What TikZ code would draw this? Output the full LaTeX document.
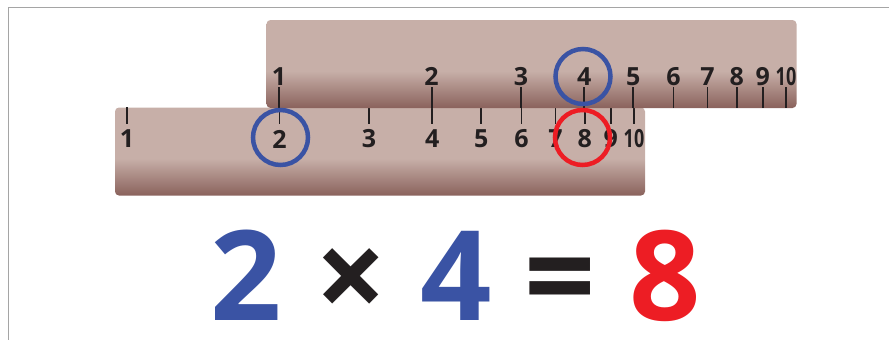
\documentclass[tikz,border=0pt]{standalone}
\usepackage{fontspec}
\setmainfont{Open Sans}
\definecolor{rlight}{RGB}{199,175,168}
\definecolor{rdark}{RGB}{138,98,92}
\definecolor{eqblue}{RGB}{58,83,164}
\definecolor{eqred}{RGB}{237,29,36}
\definecolor{ink}{RGB}{35,31,32}
\definecolor{framegray}{RGB}{165,165,165}
\pgfdeclareverticalshading{rulershade}{100bp}{color(0bp)=(rdark); color(25bp)=(rdark); color(46bp)=(rlight); color(100bp)=(rlight)}
\begin{document}
\begin{tikzpicture}[x=1pt,y=-1pt,
  ruler/.style={shading=rulershade, rounded corners=4pt, minimum width=530pt, minimum height=88pt, inner sep=0pt},
  lab/.style={text=ink, font=\bfseries\fontsize{25}{25}\selectfont, inner sep=1.5pt},
  tick/.style={draw=ink, line width=1.8pt},
  ring/.style={circle, line width=4.5pt, minimum size=55pt, inner sep=0pt},
  eq/.style={font=\bfseries\fontsize{125}{125}\selectfont, inner sep=0pt, anchor=base},
  frame/.style={draw=framegray, line width=1.5pt}]
\useasboundingbox (0,0) rectangle (889,340);
\draw[frame] (8.5,340) -- (8.5,7.5) -- (889,7.5);
% lower ruler
\node[ruler] (rb) at (380,151.5) {};
\foreach \n in {1,...,9}{
  \node[lab] (b\n) at ({127+507*log10(\n)},139) {\n};
  \draw[tick] (b\n.north |- rb.north) -- ([yshift=4pt]b\n.north);
}
\node[lab] (b10) at (634,139) {\scalebox{0.72}[1]{10}};
\draw[tick] (b10.north |- rb.north) -- ([yshift=4pt]b10.north);
% upper ruler
\node[ruler] (rt) at (531.5,64) {};
\foreach \n in {1,...,9}{
  \node[lab] (t\n) at ({279+507*log10(\n)},76.5) {\n};
  \draw[tick] (t\n.south) -- (t\n.south |- rt.south);
}
\node[lab] (t10) at (786,76.5) {\scalebox{0.72}[1]{10}};
\draw[tick] (t10.south) -- (t10.south |- rt.south);
% rings
\node[ring, draw=eqblue] (c1) at (583,76.5) {};
\node[ring, draw=eqblue] (c2) at (280.5,137.5) {};
\node[ring, draw=eqred] (c3) at (582.5,137.5) {};
% equation
\node[eq, text=eqblue] (e1) at (246,320) {2};
\node[eq, text=ink] (e2) at (351,320) {×};
\node[eq, text=eqblue] (e3) at (456,320) {4};
\node[eq, text=ink] (e4) at (560,320) {=};
\node[eq, text=eqred] (e5) at (665,320) {8};
\end{tikzpicture}
\end{document}
